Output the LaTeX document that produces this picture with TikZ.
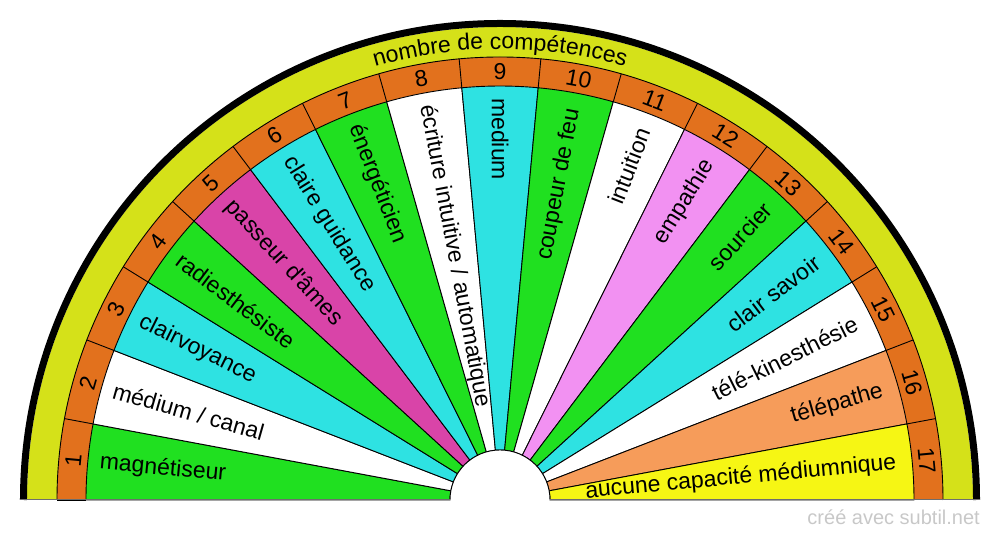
\documentclass[tikz,border=0pt]{standalone}
\usepackage{fontspec}
\setmainfont{Liberation Sans}
\usetikzlibrary{decorations.text}
\definecolor{ring}{HTML}{D5E119}
\definecolor{band}{HTML}{E2711D}
\definecolor{secgreen}{HTML}{20E020}
\definecolor{seccyan}{HTML}{2EE2E2}
\definecolor{secmagenta}{HTML}{D944A8}
\definecolor{secpink}{HTML}{F291F2}
\definecolor{secapricot}{HTML}{F69C5A}
\definecolor{secyellow}{HTML}{F6F614}
\definecolor{seam}{HTML}{6E6E6E}
\definecolor{credit}{HTML}{C8C8C8}
\newcommand{\dialfont}{\fontsize{23}{27}\selectfont}
\tikzset{
  font=\dialfont,
  wedge/.style={draw=black, line width=0.9pt},
  rim/.style={draw=black, line width=0.9pt},
  numlbl/.style={inner sep=0pt, text=black},
  seclbl/.style={inner sep=0pt, text=black},
  creditlbl/.style={font=\fontsize{20}{24}\selectfont, text=credit, inner sep=0pt},
}

\begin{document}
\begin{tikzpicture}[x=1pt, y=1pt]
\useasboundingbox (-500,-40) rectangle (500,500);

% =========================================================================
% outer rings
% =========================================================================
\fill[ring] (180:473) arc[start angle=180, end angle=0, radius=473]
  -- (0:443) arc[start angle=0, end angle=180, radius=443] -- cycle;
\fill[band] (180:443) arc[start angle=180, end angle=0, radius=443]
  -- (0:414) arc[start angle=0, end angle=180, radius=414] -- cycle;
\draw[line width=7pt] (180:476.5) arc[start angle=180, end angle=0, radius=476.5];
\draw[rim] (180:443) arc[start angle=180, end angle=0, radius=443];

\path[decorate, decoration={text along path, text align=center,
  text={|\dialfont|nombre de compétences}}]
  (180:451) arc[start angle=180, end angle=0, radius=451];

% =========================================================================
% sectors
% =========================================================================
\foreach \col [count=\i, evaluate=\i as \a using {180-(\i-1)*180/17},
               evaluate=\i as \b using {180-\i*180/17}] in
  {secgreen, white, seccyan, secgreen, secmagenta, seccyan, secgreen, white,
   seccyan, secgreen, white, secpink, secgreen, seccyan, white, secapricot,
   secyellow}
{
  \filldraw[wedge, fill=\col] (\a:50) -- (\a:414)
    arc[start angle=\a, end angle=\b, radius=414] -- (\b:50)
    arc[start angle=\b, end angle=\a, radius=50] -- cycle;
  \draw[rim] (\a:414) -- (\a:443);
}

% the hub and the base line
\fill[white] (50,0) arc[start angle=0, end angle=180, radius=50] -- cycle;
\draw[rim] (50,0) arc[start angle=0, end angle=180, radius=50];
\draw[seam, line width=1pt] (-480,0) -- (-50,0);
\draw[seam, line width=1pt] (50,0) -- (480,0);

% numbers in the orange band
\foreach \i [evaluate=\i as \m using {180-(\i-0.5)*180/17}] in {1,...,17}
  \node[numlbl, rotate=\m-90] (n\i) at (\m:428.5) {\i};

% sector names
\foreach \lbl [count=\i, evaluate=\i as \m using {180-(\i-0.5)*180/17}] in
  {{magnétiseur}, {médium / canal}, {clairvoyance}, {radiesthésiste},
   {passeur d\textquotesingle âmes}, {claire guidance}, {énergéticien},
   {écriture intuitive / automatique}, {medium}, {coupeur de feu},
   {intuition}, {empathie}, {sourcier}, {clair savoir},
   {télé-kinesthésie}, {télépathe}, {aucune capacité médiumnique}}
{
  \ifnum\i<10
    \node[seclbl, anchor=west, rotate=\m-180] (s\i) at (\m:402) {\lbl};
  \else
    \node[seclbl, anchor=east, rotate=\m] (s\i) at (\m:398) {\lbl};
  \fi
}

\node[creditlbl, anchor=base east] (credit) at (480,-25) {créé avec subtil.net};

\end{tikzpicture}
\end{document}
